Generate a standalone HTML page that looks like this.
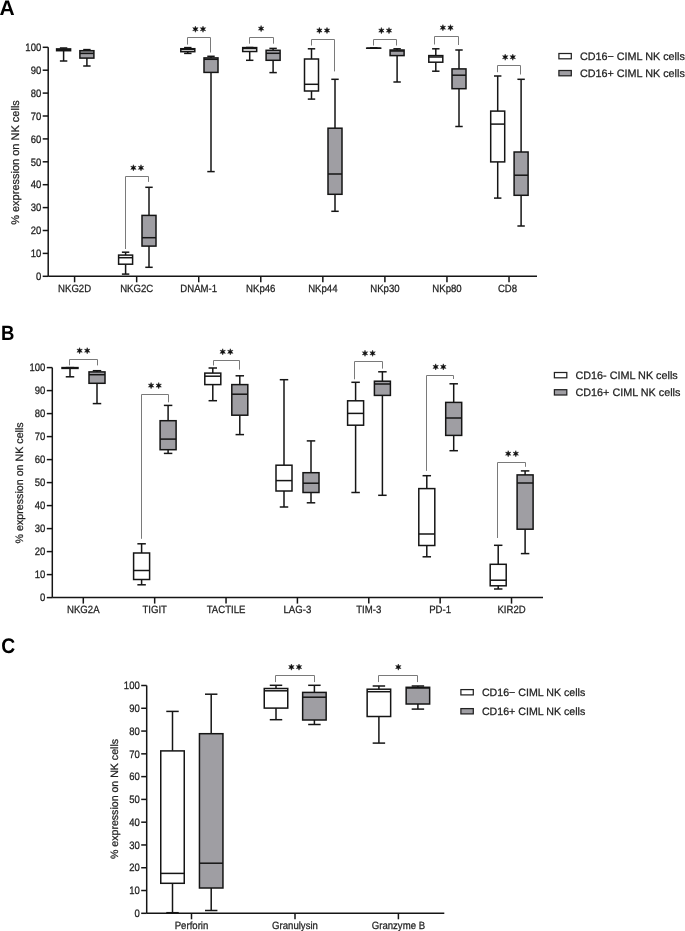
<!DOCTYPE html>
<html><head><meta charset="utf-8"><style>
html,body{margin:0;padding:0;background:#fff;}
body{width:685px;height:931px;overflow:hidden;}
svg{display:block;will-change:transform;}
</style></head><body>
<svg width="685" height="931" viewBox="0 0 685 931" style="text-rendering:geometricPrecision">
<text transform="translate(-0.6,14.7) scale(1.0,1)" font-family='"Liberation Sans", sans-serif' font-weight="bold" font-size="21" fill="#000">A</text>
<text transform="translate(18.6,162.5) rotate(-90)" font-family='"Liberation Sans", sans-serif' font-size="11" fill="#222" stroke="#222" stroke-width="0.25" text-anchor="middle">% expression on NK cells</text>
<g stroke="#151515" stroke-width="1.5" fill="none">
<line x1="48.2" y1="47.3" x2="48.2" y2="276.3" />
<line x1="48.2" y1="276.3" x2="537" y2="276.3" />
<line x1="42.7" y1="276.30" x2="48.2" y2="276.30" />
<line x1="42.7" y1="253.40" x2="48.2" y2="253.40" />
<line x1="42.7" y1="230.50" x2="48.2" y2="230.50" />
<line x1="42.7" y1="207.60" x2="48.2" y2="207.60" />
<line x1="42.7" y1="184.70" x2="48.2" y2="184.70" />
<line x1="42.7" y1="161.80" x2="48.2" y2="161.80" />
<line x1="42.7" y1="138.90" x2="48.2" y2="138.90" />
<line x1="42.7" y1="116.00" x2="48.2" y2="116.00" />
<line x1="42.7" y1="93.10" x2="48.2" y2="93.10" />
<line x1="42.7" y1="70.20" x2="48.2" y2="70.20" />
<line x1="42.7" y1="47.30" x2="48.2" y2="47.30" />
<line x1="74.60" y1="276.3" x2="74.60" y2="282.3" />
<line x1="136.66" y1="276.3" x2="136.66" y2="282.3" />
<line x1="198.72" y1="276.3" x2="198.72" y2="282.3" />
<line x1="260.78" y1="276.3" x2="260.78" y2="282.3" />
<line x1="322.84" y1="276.3" x2="322.84" y2="282.3" />
<line x1="384.90" y1="276.3" x2="384.90" y2="282.3" />
<line x1="446.96" y1="276.3" x2="446.96" y2="282.3" />
<line x1="509.02" y1="276.3" x2="509.02" y2="282.3" />
</g>
<g font-family='"Liberation Sans", sans-serif' font-size="10" fill="#222" stroke="#222" stroke-width="0.25" text-anchor="end">
<text transform="translate(41.2,280.00) scale(0.95,1.08)">0</text>
<text transform="translate(41.2,257.10) scale(0.95,1.08)">10</text>
<text transform="translate(41.2,234.20) scale(0.95,1.08)">20</text>
<text transform="translate(41.2,211.30) scale(0.95,1.08)">30</text>
<text transform="translate(41.2,188.40) scale(0.95,1.08)">40</text>
<text transform="translate(41.2,165.50) scale(0.95,1.08)">50</text>
<text transform="translate(41.2,142.60) scale(0.95,1.08)">60</text>
<text transform="translate(41.2,119.70) scale(0.95,1.08)">70</text>
<text transform="translate(41.2,96.80) scale(0.95,1.08)">80</text>
<text transform="translate(41.2,73.90) scale(0.95,1.08)">90</text>
<text transform="translate(41.2,51.00) scale(0.95,1.08)">100</text>
</g>
<g font-family='"Liberation Sans", sans-serif' font-size="10" fill="#222" stroke="#222" stroke-width="0.25" text-anchor="middle">
<text transform="translate(74.60,291.7) scale(0.96,1.05)">NKG2D</text>
<text transform="translate(136.66,291.7) scale(0.96,1.05)">NKG2C</text>
<text transform="translate(198.72,291.7) scale(0.96,1.05)">DNAM-1</text>
<text transform="translate(260.78,291.7) scale(0.96,1.05)">NKp46</text>
<text transform="translate(322.84,291.7) scale(0.96,1.05)">NKp44</text>
<text transform="translate(384.90,291.7) scale(0.96,1.05)">NKp30</text>
<text transform="translate(446.96,291.7) scale(0.96,1.05)">NKp80</text>
<text transform="translate(507.52,291.7) scale(0.96,1.05)">CD8</text>
</g>
<g stroke="#151515" stroke-width="1.5">
<line x1="63.6" y1="48.0" x2="63.6" y2="48.9" />
<line x1="63.6" y1="50.7" x2="63.6" y2="61.0" />
<line x1="59.89" y1="48.0" x2="67.31" y2="48.0" />
<line x1="59.89" y1="61.0" x2="67.31" y2="61.0" />
<rect x="56.6" y="48.9" width="14" height="1.8000000000000043" fill="#fff" />
<line x1="56.6" y1="49.8" x2="70.6" y2="49.8" />
<line x1="86.9" y1="49.6" x2="86.9" y2="50.7" />
<line x1="86.9" y1="58.1" x2="86.9" y2="66.0" />
<line x1="83.19000000000001" y1="49.6" x2="90.61" y2="49.6" />
<line x1="83.19000000000001" y1="66.0" x2="90.61" y2="66.0" />
<rect x="79.9" y="50.7" width="14" height="7.399999999999999" fill="#9f9ea3" />
<line x1="79.9" y1="53.4" x2="93.9" y2="53.4" />
<line x1="125.6" y1="252.2" x2="125.6" y2="255.1" />
<line x1="125.6" y1="264.2" x2="125.6" y2="274.1" />
<line x1="121.89" y1="252.2" x2="129.31" y2="252.2" />
<line x1="121.89" y1="274.1" x2="129.31" y2="274.1" />
<rect x="118.6" y="255.1" width="14" height="9.099999999999994" fill="#fff" />
<line x1="118.6" y1="257.7" x2="132.6" y2="257.7" />
<line x1="149.0" y1="187.3" x2="149.0" y2="215.4" />
<line x1="149.0" y1="246.1" x2="149.0" y2="267.3" />
<line x1="145.29" y1="187.3" x2="152.71" y2="187.3" />
<line x1="145.29" y1="267.3" x2="152.71" y2="267.3" />
<rect x="142.0" y="215.4" width="14" height="30.69999999999999" fill="#9f9ea3" />
<line x1="142.0" y1="237.7" x2="156.0" y2="237.7" />
<line x1="187.8" y1="47.6" x2="187.8" y2="48.7" />
<line x1="187.8" y1="51.7" x2="187.8" y2="53.4" />
<line x1="184.09" y1="47.6" x2="191.51000000000002" y2="47.6" />
<line x1="184.09" y1="53.4" x2="191.51000000000002" y2="53.4" />
<rect x="180.8" y="48.7" width="14" height="3.0" fill="#fff" />
<line x1="180.8" y1="49.5" x2="194.8" y2="49.5" />
<line x1="211.0" y1="56.3" x2="211.0" y2="57.9" />
<line x1="211.0" y1="72.4" x2="211.0" y2="171.6" />
<line x1="207.29" y1="56.3" x2="214.71" y2="56.3" />
<line x1="207.29" y1="171.6" x2="214.71" y2="171.6" />
<rect x="204.0" y="57.9" width="14" height="14.500000000000007" fill="#9f9ea3" />
<line x1="204.0" y1="59.3" x2="218.0" y2="59.3" />
<line x1="249.7" y1="47.5" x2="249.7" y2="47.6" />
<line x1="249.7" y1="51.5" x2="249.7" y2="60.3" />
<line x1="245.98999999999998" y1="47.5" x2="253.41" y2="47.5" />
<line x1="245.98999999999998" y1="60.3" x2="253.41" y2="60.3" />
<rect x="242.7" y="47.6" width="14" height="3.8999999999999986" fill="#fff" />
<line x1="242.7" y1="48.5" x2="256.7" y2="48.5" />
<line x1="273.1" y1="48.4" x2="273.1" y2="50.3" />
<line x1="273.1" y1="60.3" x2="273.1" y2="72.6" />
<line x1="269.39000000000004" y1="48.4" x2="276.81" y2="48.4" />
<line x1="269.39000000000004" y1="72.6" x2="276.81" y2="72.6" />
<rect x="266.1" y="50.3" width="14" height="10.0" fill="#9f9ea3" />
<line x1="266.1" y1="53.3" x2="280.1" y2="53.3" />
<line x1="311.5" y1="48.8" x2="311.5" y2="59.0" />
<line x1="311.5" y1="91.0" x2="311.5" y2="99.1" />
<line x1="307.79" y1="48.8" x2="315.21" y2="48.8" />
<line x1="307.79" y1="99.1" x2="315.21" y2="99.1" />
<rect x="304.5" y="59.0" width="14" height="32.0" fill="#fff" />
<line x1="304.5" y1="84.3" x2="318.5" y2="84.3" />
<line x1="335.0" y1="79.3" x2="335.0" y2="128.2" />
<line x1="335.0" y1="194.3" x2="335.0" y2="211.3" />
<line x1="331.29" y1="79.3" x2="338.71" y2="79.3" />
<line x1="331.29" y1="211.3" x2="338.71" y2="211.3" />
<rect x="328.0" y="128.2" width="14" height="66.10000000000002" fill="#9f9ea3" />
<line x1="328.0" y1="174.0" x2="342.0" y2="174.0" />
<line x1="373.7" y1="48.2" x2="373.7" y2="48.2" />
<line x1="373.7" y1="48.2" x2="373.7" y2="48.2" />
<line x1="369.99" y1="48.2" x2="377.40999999999997" y2="48.2" />
<line x1="369.99" y1="48.2" x2="377.40999999999997" y2="48.2" />
<rect x="366.7" y="48.2" width="14" height="0.01" fill="#fff" />
<line x1="366.7" y1="48.2" x2="380.7" y2="48.2" />
<line x1="397.1" y1="48.8" x2="397.1" y2="50.0" />
<line x1="397.1" y1="55.6" x2="397.1" y2="82.0" />
<line x1="393.39000000000004" y1="48.8" x2="400.81" y2="48.8" />
<line x1="393.39000000000004" y1="82.0" x2="400.81" y2="82.0" />
<rect x="390.1" y="50.0" width="14" height="5.600000000000001" fill="#9f9ea3" />
<line x1="390.1" y1="51.0" x2="404.1" y2="51.0" />
<line x1="435.8" y1="48.8" x2="435.8" y2="55.6" />
<line x1="435.8" y1="62.2" x2="435.8" y2="71.2" />
<line x1="432.09000000000003" y1="48.8" x2="439.51" y2="48.8" />
<line x1="432.09000000000003" y1="71.2" x2="439.51" y2="71.2" />
<rect x="428.8" y="55.6" width="14" height="6.600000000000001" fill="#fff" />
<line x1="428.8" y1="57.0" x2="442.8" y2="57.0" />
<line x1="459.0" y1="50.0" x2="459.0" y2="68.9" />
<line x1="459.0" y1="88.7" x2="459.0" y2="126.5" />
<line x1="455.29" y1="50.0" x2="462.71" y2="50.0" />
<line x1="455.29" y1="126.5" x2="462.71" y2="126.5" />
<rect x="452.0" y="68.9" width="14" height="19.799999999999997" fill="#9f9ea3" />
<line x1="452.0" y1="75.2" x2="466.0" y2="75.2" />
<line x1="497.7" y1="76.0" x2="497.7" y2="111.1" />
<line x1="497.7" y1="161.9" x2="497.7" y2="198.1" />
<line x1="493.99" y1="76.0" x2="501.40999999999997" y2="76.0" />
<line x1="493.99" y1="198.1" x2="501.40999999999997" y2="198.1" />
<rect x="490.7" y="111.1" width="14" height="50.80000000000001" fill="#fff" />
<line x1="490.7" y1="124.1" x2="504.7" y2="124.1" />
<line x1="521.1" y1="79.3" x2="521.1" y2="152.0" />
<line x1="521.1" y1="195.3" x2="521.1" y2="226.0" />
<line x1="517.39" y1="79.3" x2="524.8100000000001" y2="79.3" />
<line x1="517.39" y1="226.0" x2="524.8100000000001" y2="226.0" />
<rect x="514.1" y="152.0" width="14" height="43.30000000000001" fill="#9f9ea3" />
<line x1="514.1" y1="175.2" x2="528.1" y2="175.2" />
</g>
<path d="M125.5,249V176.5H148.5V181.9" stroke="#7a7a7a" stroke-width="1" fill="none"/>
<polygon points="133.40,164.75 134.05,166.67 136.04,166.28 134.70,167.80 136.04,169.33 134.05,168.93 133.40,170.85 132.75,168.93 130.76,169.33 132.10,167.80 130.76,166.28 132.75,166.67" fill="#111" stroke="#111" stroke-width="0.5" stroke-linejoin="round"/>
<polygon points="141.00,164.75 141.65,166.67 143.64,166.28 142.30,167.80 143.64,169.33 141.65,168.93 141.00,170.85 140.35,168.93 138.36,169.33 139.70,167.80 138.36,166.28 140.35,166.67" fill="#111" stroke="#111" stroke-width="0.5" stroke-linejoin="round"/>
<path d="M187.5,44.6V37.5H210.5V52.5" stroke="#7a7a7a" stroke-width="1" fill="none"/>
<polygon points="195.40,26.15 196.05,28.07 198.04,27.67 196.70,29.20 198.04,30.72 196.05,30.33 195.40,32.25 194.75,30.33 192.76,30.72 194.10,29.20 192.76,27.67 194.75,28.07" fill="#111" stroke="#111" stroke-width="0.5" stroke-linejoin="round"/>
<polygon points="203.00,26.15 203.65,28.07 205.64,27.67 204.30,29.20 205.64,30.72 203.65,30.33 203.00,32.25 202.35,30.33 200.36,30.72 201.70,29.20 200.36,27.67 202.35,28.07" fill="#111" stroke="#111" stroke-width="0.5" stroke-linejoin="round"/>
<path d="M249.5,43.7V37.5H273.5V43.7" stroke="#7a7a7a" stroke-width="1" fill="none"/>
<polygon points="261.10,25.55 261.75,27.47 263.74,27.08 262.40,28.60 263.74,30.12 261.75,29.73 261.10,31.65 260.45,29.73 258.46,30.12 259.80,28.60 258.46,27.08 260.45,27.47" fill="#111" stroke="#111" stroke-width="0.5" stroke-linejoin="round"/>
<path d="M311.5,45.5V39.5H334.5V71.4" stroke="#7a7a7a" stroke-width="1" fill="none"/>
<polygon points="319.40,27.45 320.05,29.37 322.04,28.98 320.70,30.50 322.04,32.02 320.05,31.63 319.40,33.55 318.75,31.63 316.76,32.02 318.10,30.50 316.76,28.98 318.75,29.37" fill="#111" stroke="#111" stroke-width="0.5" stroke-linejoin="round"/>
<polygon points="327.00,27.45 327.65,29.37 329.64,28.98 328.30,30.50 329.64,32.02 327.65,31.63 327.00,33.55 326.35,31.63 324.36,32.02 325.70,30.50 324.36,28.98 326.35,29.37" fill="#111" stroke="#111" stroke-width="0.5" stroke-linejoin="round"/>
<path d="M373.5,45.5V39.5H396.5V45.5" stroke="#7a7a7a" stroke-width="1" fill="none"/>
<polygon points="381.40,27.55 382.05,29.47 384.04,29.08 382.70,30.60 384.04,32.12 382.05,31.73 381.40,33.65 380.75,31.73 378.76,32.12 380.10,30.60 378.76,29.08 380.75,29.47" fill="#111" stroke="#111" stroke-width="0.5" stroke-linejoin="round"/>
<polygon points="389.00,27.55 389.65,29.47 391.64,29.08 390.30,30.60 391.64,32.12 389.65,31.73 389.00,33.65 388.35,31.73 386.36,32.12 387.70,30.60 386.36,29.08 388.35,29.47" fill="#111" stroke="#111" stroke-width="0.5" stroke-linejoin="round"/>
<path d="M434.5,44.5V36.5H458.5V45.0" stroke="#7a7a7a" stroke-width="1" fill="none"/>
<polygon points="442.90,24.65 443.55,26.57 445.54,26.17 444.20,27.70 445.54,29.22 443.55,28.83 442.90,30.75 442.25,28.83 440.26,29.22 441.60,27.70 440.26,26.17 442.25,26.57" fill="#111" stroke="#111" stroke-width="0.5" stroke-linejoin="round"/>
<polygon points="450.50,24.65 451.15,26.57 453.14,26.17 451.80,27.70 453.14,29.22 451.15,28.83 450.50,30.75 449.85,28.83 447.86,29.22 449.20,27.70 447.86,26.17 449.85,26.57" fill="#111" stroke="#111" stroke-width="0.5" stroke-linejoin="round"/>
<path d="M497.5,72.2V65.5H520.5V74.5" stroke="#7a7a7a" stroke-width="1" fill="none"/>
<polygon points="505.20,54.15 505.85,56.07 507.84,55.67 506.50,57.20 507.84,58.72 505.85,58.33 505.20,60.25 504.55,58.33 502.56,58.72 503.90,57.20 502.56,55.67 504.55,56.07" fill="#111" stroke="#111" stroke-width="0.5" stroke-linejoin="round"/>
<polygon points="512.80,54.15 513.45,56.07 515.44,55.67 514.10,57.20 515.44,58.72 513.45,58.33 512.80,60.25 512.15,58.33 510.16,58.72 511.50,57.20 510.16,55.67 512.15,56.07" fill="#111" stroke="#111" stroke-width="0.5" stroke-linejoin="round"/>
<rect x="558.9" y="53.5" width="12.4" height="5.3" fill="#fff" stroke="#222" stroke-width="1.25"/>
<rect x="558.9" y="70.5" width="12.4" height="5.3" fill="#9f9ea3" stroke="#222" stroke-width="1.25"/>
<text x="579.9" y="59.5" font-family='"Liberation Sans", sans-serif' font-size="10.8" fill="#222" stroke="#222" stroke-width="0.25">CD16− CIML NK cells</text>
<text x="579.9" y="76.8" font-family='"Liberation Sans", sans-serif' font-size="10.8" fill="#222" stroke="#222" stroke-width="0.25">CD16+ CIML NK cells</text>
<text transform="translate(1.0,340.1) scale(0.9,1)" font-family='"Liberation Sans", sans-serif' font-weight="bold" font-size="20.6" fill="#000">B</text>
<text transform="translate(23.4,482.9) rotate(-90)" font-family='"Liberation Sans", sans-serif' font-size="10.7" fill="#222" stroke="#222" stroke-width="0.25" text-anchor="middle">% expression on NK cells</text>
<g stroke="#151515" stroke-width="1.5" fill="none">
<line x1="52.3" y1="367.6" x2="52.3" y2="597.6" />
<line x1="52.3" y1="597.6" x2="543" y2="597.6" />
<line x1="46.8" y1="597.60" x2="52.3" y2="597.60" />
<line x1="46.8" y1="574.60" x2="52.3" y2="574.60" />
<line x1="46.8" y1="551.60" x2="52.3" y2="551.60" />
<line x1="46.8" y1="528.60" x2="52.3" y2="528.60" />
<line x1="46.8" y1="505.60" x2="52.3" y2="505.60" />
<line x1="46.8" y1="482.60" x2="52.3" y2="482.60" />
<line x1="46.8" y1="459.60" x2="52.3" y2="459.60" />
<line x1="46.8" y1="436.60" x2="52.3" y2="436.60" />
<line x1="46.8" y1="413.60" x2="52.3" y2="413.60" />
<line x1="46.8" y1="390.60" x2="52.3" y2="390.60" />
<line x1="46.8" y1="367.60" x2="52.3" y2="367.60" />
<line x1="83.30" y1="597.6" x2="83.30" y2="603.6" />
<line x1="154.67" y1="597.6" x2="154.67" y2="603.6" />
<line x1="226.04" y1="597.6" x2="226.04" y2="603.6" />
<line x1="297.41" y1="597.6" x2="297.41" y2="603.6" />
<line x1="368.78" y1="597.6" x2="368.78" y2="603.6" />
<line x1="440.15" y1="597.6" x2="440.15" y2="603.6" />
<line x1="511.52" y1="597.6" x2="511.52" y2="603.6" />
</g>
<g font-family='"Liberation Sans", sans-serif' font-size="10" fill="#222" stroke="#222" stroke-width="0.25" text-anchor="end">
<text transform="translate(45.3,601.30) scale(0.95,1.08)">0</text>
<text transform="translate(45.3,578.30) scale(0.95,1.08)">10</text>
<text transform="translate(45.3,555.30) scale(0.95,1.08)">20</text>
<text transform="translate(45.3,532.30) scale(0.95,1.08)">30</text>
<text transform="translate(45.3,509.30) scale(0.95,1.08)">40</text>
<text transform="translate(45.3,486.30) scale(0.95,1.08)">50</text>
<text transform="translate(45.3,463.30) scale(0.95,1.08)">60</text>
<text transform="translate(45.3,440.30) scale(0.95,1.08)">70</text>
<text transform="translate(45.3,417.30) scale(0.95,1.08)">80</text>
<text transform="translate(45.3,394.30) scale(0.95,1.08)">90</text>
<text transform="translate(45.3,371.30) scale(0.95,1.08)">100</text>
</g>
<g font-family='"Liberation Sans", sans-serif' font-size="10" fill="#222" stroke="#222" stroke-width="0.25" text-anchor="middle">
<text transform="translate(83.30,612.8) scale(0.96,1.05)">NKG2A</text>
<text transform="translate(154.67,612.8) scale(0.96,1.05)">TIGIT</text>
<text transform="translate(226.04,612.8) scale(0.96,1.05)">TACTILE</text>
<text transform="translate(297.41,612.8) scale(0.96,1.05)">LAG-3</text>
<text transform="translate(368.78,612.8) scale(0.96,1.05)">TIM-3</text>
<text transform="translate(440.15,612.8) scale(0.96,1.05)">PD-1</text>
<text transform="translate(511.52,612.8) scale(0.96,1.05)">KIR2D</text>
</g>
<g stroke="#151515" stroke-width="1.5">
<line x1="70.0" y1="367.6" x2="70.0" y2="367.6" />
<line x1="70.0" y1="368.4" x2="70.0" y2="376.8" />
<line x1="65.76" y1="367.6" x2="74.24" y2="367.6" />
<line x1="65.76" y1="376.8" x2="74.24" y2="376.8" />
<rect x="62.0" y="367.6" width="16" height="0.7999999999999545" fill="#fff" />
<line x1="62.0" y1="368.0" x2="78.0" y2="368.0" />
<line x1="97.0" y1="370.7" x2="97.0" y2="371.9" />
<line x1="97.0" y1="383.3" x2="97.0" y2="403.6" />
<line x1="92.76" y1="370.7" x2="101.24" y2="370.7" />
<line x1="92.76" y1="403.6" x2="101.24" y2="403.6" />
<rect x="89.0" y="371.9" width="16" height="11.400000000000034" fill="#9f9ea3" />
<line x1="89.0" y1="374.7" x2="105.0" y2="374.7" />
<line x1="141.6" y1="543.8" x2="141.6" y2="553.0" />
<line x1="141.6" y1="579.5" x2="141.6" y2="584.8" />
<line x1="137.35999999999999" y1="543.8" x2="145.84" y2="543.8" />
<line x1="137.35999999999999" y1="584.8" x2="145.84" y2="584.8" />
<rect x="133.6" y="553.0" width="16" height="26.5" fill="#fff" />
<line x1="133.6" y1="570.5" x2="149.6" y2="570.5" />
<line x1="168.1" y1="405.4" x2="168.1" y2="420.7" />
<line x1="168.1" y1="449.7" x2="168.1" y2="453.4" />
<line x1="163.85999999999999" y1="405.4" x2="172.34" y2="405.4" />
<line x1="163.85999999999999" y1="453.4" x2="172.34" y2="453.4" />
<rect x="160.1" y="420.7" width="16" height="29.0" fill="#9f9ea3" />
<line x1="160.1" y1="439.1" x2="176.1" y2="439.1" />
<line x1="212.8" y1="368.0" x2="212.8" y2="373.1" />
<line x1="212.8" y1="384.6" x2="212.8" y2="400.7" />
<line x1="208.56" y1="368.0" x2="217.04000000000002" y2="368.0" />
<line x1="208.56" y1="400.7" x2="217.04000000000002" y2="400.7" />
<rect x="204.8" y="373.1" width="16" height="11.5" fill="#fff" />
<line x1="204.8" y1="376.2" x2="220.8" y2="376.2" />
<line x1="239.8" y1="375.8" x2="239.8" y2="384.6" />
<line x1="239.8" y1="415.2" x2="239.8" y2="434.6" />
<line x1="235.56" y1="375.8" x2="244.04000000000002" y2="375.8" />
<line x1="235.56" y1="434.6" x2="244.04000000000002" y2="434.6" />
<rect x="231.8" y="384.6" width="16" height="30.599999999999966" fill="#9f9ea3" />
<line x1="231.8" y1="394.2" x2="247.8" y2="394.2" />
<line x1="284.0" y1="379.7" x2="284.0" y2="465.2" />
<line x1="284.0" y1="491.0" x2="284.0" y2="507.0" />
<line x1="279.76" y1="379.7" x2="288.24" y2="379.7" />
<line x1="279.76" y1="507.0" x2="288.24" y2="507.0" />
<rect x="276.0" y="465.2" width="16" height="25.80000000000001" fill="#fff" />
<line x1="276.0" y1="480.6" x2="292.0" y2="480.6" />
<line x1="311.0" y1="440.9" x2="311.0" y2="472.7" />
<line x1="311.0" y1="492.5" x2="311.0" y2="502.8" />
<line x1="306.76" y1="440.9" x2="315.24" y2="440.9" />
<line x1="306.76" y1="502.8" x2="315.24" y2="502.8" />
<rect x="303.0" y="472.7" width="16" height="19.80000000000001" fill="#9f9ea3" />
<line x1="303.0" y1="483.2" x2="319.0" y2="483.2" />
<line x1="355.6" y1="382.3" x2="355.6" y2="400.8" />
<line x1="355.6" y1="425.2" x2="355.6" y2="492.5" />
<line x1="351.36" y1="382.3" x2="359.84000000000003" y2="382.3" />
<line x1="351.36" y1="492.5" x2="359.84000000000003" y2="492.5" />
<rect x="347.6" y="400.8" width="16" height="24.399999999999977" fill="#fff" />
<line x1="347.6" y1="413.4" x2="363.6" y2="413.4" />
<line x1="382.4" y1="371.8" x2="382.4" y2="381.2" />
<line x1="382.4" y1="395.4" x2="382.4" y2="495.3" />
<line x1="378.15999999999997" y1="371.8" x2="386.64" y2="371.8" />
<line x1="378.15999999999997" y1="495.3" x2="386.64" y2="495.3" />
<rect x="374.4" y="381.2" width="16" height="14.199999999999989" fill="#9f9ea3" />
<line x1="374.4" y1="384.0" x2="390.4" y2="384.0" />
<line x1="426.8" y1="475.7" x2="426.8" y2="488.6" />
<line x1="426.8" y1="545.5" x2="426.8" y2="556.8" />
<line x1="422.56" y1="475.7" x2="431.04" y2="475.7" />
<line x1="422.56" y1="556.8" x2="431.04" y2="556.8" />
<rect x="418.8" y="488.6" width="16" height="56.89999999999998" fill="#fff" />
<line x1="418.8" y1="534.0" x2="434.8" y2="534.0" />
<line x1="453.7" y1="383.8" x2="453.7" y2="402.4" />
<line x1="453.7" y1="435.4" x2="453.7" y2="450.7" />
<line x1="449.46" y1="383.8" x2="457.94" y2="383.8" />
<line x1="449.46" y1="450.7" x2="457.94" y2="450.7" />
<rect x="445.7" y="402.4" width="16" height="33.0" fill="#9f9ea3" />
<line x1="445.7" y1="418.0" x2="461.7" y2="418.0" />
<line x1="498.2" y1="545.3" x2="498.2" y2="564.3" />
<line x1="498.2" y1="585.8" x2="498.2" y2="589.0" />
<line x1="493.96" y1="545.3" x2="502.44" y2="545.3" />
<line x1="493.96" y1="589.0" x2="502.44" y2="589.0" />
<rect x="490.2" y="564.3" width="16" height="21.5" fill="#fff" />
<line x1="490.2" y1="580.2" x2="506.2" y2="580.2" />
<line x1="525.1" y1="470.9" x2="525.1" y2="474.9" />
<line x1="525.1" y1="529.2" x2="525.1" y2="553.6" />
<line x1="520.86" y1="470.9" x2="529.34" y2="470.9" />
<line x1="520.86" y1="553.6" x2="529.34" y2="553.6" />
<rect x="517.1" y="474.9" width="16" height="54.30000000000007" fill="#9f9ea3" />
<line x1="517.1" y1="483.0" x2="533.1" y2="483.0" />
</g>
<path d="M69.5,365.4V359.5H97.5V365.4" stroke="#7a7a7a" stroke-width="1" fill="none"/>
<polygon points="79.60,347.65 80.25,349.57 82.24,349.18 80.90,350.70 82.24,352.22 80.25,351.83 79.60,353.75 78.95,351.83 76.96,352.22 78.30,350.70 76.96,349.18 78.95,349.57" fill="#111" stroke="#111" stroke-width="0.5" stroke-linejoin="round"/>
<polygon points="87.20,347.65 87.85,349.57 89.84,349.18 88.50,350.70 89.84,352.22 87.85,351.83 87.20,353.75 86.55,351.83 84.56,352.22 85.90,350.70 84.56,349.18 86.55,349.57" fill="#111" stroke="#111" stroke-width="0.5" stroke-linejoin="round"/>
<path d="M141.5,538.8V394.5H168.5V402.3" stroke="#7a7a7a" stroke-width="1" fill="none"/>
<polygon points="151.10,382.55 151.75,384.47 153.74,384.07 152.40,385.60 153.74,387.12 151.75,386.73 151.10,388.65 150.45,386.73 148.46,387.12 149.80,385.60 148.46,384.07 150.45,384.47" fill="#111" stroke="#111" stroke-width="0.5" stroke-linejoin="round"/>
<polygon points="158.70,382.55 159.35,384.47 161.34,384.07 160.00,385.60 161.34,387.12 159.35,386.73 158.70,388.65 158.05,386.73 156.06,387.12 157.40,385.60 156.06,384.07 158.05,384.47" fill="#111" stroke="#111" stroke-width="0.5" stroke-linejoin="round"/>
<path d="M213.5,365.5V360.5H239.5V369.6" stroke="#7a7a7a" stroke-width="1" fill="none"/>
<polygon points="222.70,348.75 223.35,350.67 225.34,350.27 224.00,351.80 225.34,353.32 223.35,352.93 222.70,354.85 222.05,352.93 220.06,353.32 221.40,351.80 220.06,350.27 222.05,350.67" fill="#111" stroke="#111" stroke-width="0.5" stroke-linejoin="round"/>
<polygon points="230.30,348.75 230.95,350.67 232.94,350.27 231.60,351.80 232.94,353.32 230.95,352.93 230.30,354.85 229.65,352.93 227.66,353.32 229.00,351.80 227.66,350.27 229.65,350.67" fill="#111" stroke="#111" stroke-width="0.5" stroke-linejoin="round"/>
<path d="M354.5,379.3V361.5H382.5V368.6" stroke="#7a7a7a" stroke-width="1" fill="none"/>
<polygon points="365.00,350.25 365.65,352.17 367.64,351.77 366.30,353.30 367.64,354.82 365.65,354.43 365.00,356.35 364.35,354.43 362.36,354.82 363.70,353.30 362.36,351.77 364.35,352.17" fill="#111" stroke="#111" stroke-width="0.5" stroke-linejoin="round"/>
<polygon points="372.60,350.25 373.25,352.17 375.24,351.77 373.90,353.30 375.24,354.82 373.25,354.43 372.60,356.35 371.95,354.43 369.96,354.82 371.30,353.30 369.96,351.77 371.95,352.17" fill="#111" stroke="#111" stroke-width="0.5" stroke-linejoin="round"/>
<path d="M426.5,470.9V375.5H453.5V379.0" stroke="#7a7a7a" stroke-width="1" fill="none"/>
<polygon points="435.70,363.85 436.35,365.77 438.34,365.38 437.00,366.90 438.34,368.42 436.35,368.03 435.70,369.95 435.05,368.03 433.06,368.42 434.40,366.90 433.06,365.38 435.05,365.77" fill="#111" stroke="#111" stroke-width="0.5" stroke-linejoin="round"/>
<polygon points="443.30,363.85 443.95,365.77 445.94,365.38 444.60,366.90 445.94,368.42 443.95,368.03 443.30,369.95 442.65,368.03 440.66,368.42 442.00,366.90 440.66,365.38 442.65,365.77" fill="#111" stroke="#111" stroke-width="0.5" stroke-linejoin="round"/>
<path d="M497.5,538.0V462.5H525.5V466.8" stroke="#7a7a7a" stroke-width="1" fill="none"/>
<polygon points="508.20,450.65 508.85,452.57 510.84,452.18 509.50,453.70 510.84,455.22 508.85,454.83 508.20,456.75 507.55,454.83 505.56,455.22 506.90,453.70 505.56,452.18 507.55,452.57" fill="#111" stroke="#111" stroke-width="0.5" stroke-linejoin="round"/>
<polygon points="515.80,450.65 516.45,452.57 518.44,452.18 517.10,453.70 518.44,455.22 516.45,454.83 515.80,456.75 515.15,454.83 513.16,455.22 514.50,453.70 513.16,452.18 515.15,452.57" fill="#111" stroke="#111" stroke-width="0.5" stroke-linejoin="round"/>
<rect x="554.4" y="372.5" width="12.4" height="5.3" fill="#fff" stroke="#222" stroke-width="1.25"/>
<rect x="554.4" y="389.7" width="12.4" height="5.3" fill="#9f9ea3" stroke="#222" stroke-width="1.25"/>
<text x="575.5" y="379.2" font-family='"Liberation Sans", sans-serif' font-size="10.8" fill="#222" stroke="#222" stroke-width="0.25">CD16- CIML NK cells</text>
<text x="575.5" y="396.4" font-family='"Liberation Sans", sans-serif' font-size="10.8" fill="#222" stroke="#222" stroke-width="0.25">CD16+ CIML NK cells</text>
<text transform="translate(1.2,653.2) scale(0.92,1)" font-family='"Liberation Sans", sans-serif' font-weight="bold" font-size="21" fill="#000">C</text>
<text transform="translate(117.6,799.0) rotate(-90)" font-family='"Liberation Sans", sans-serif' font-size="10.6" fill="#222" stroke="#222" stroke-width="0.25" text-anchor="middle">% expression on NK cells</text>
<g stroke="#151515" stroke-width="1.5" fill="none">
<line x1="146.7" y1="685.5" x2="146.7" y2="913.3" />
<line x1="146.7" y1="913.3" x2="444.3" y2="913.3" />
<line x1="141.2" y1="913.30" x2="146.7" y2="913.30" />
<line x1="141.2" y1="890.52" x2="146.7" y2="890.52" />
<line x1="141.2" y1="867.74" x2="146.7" y2="867.74" />
<line x1="141.2" y1="844.96" x2="146.7" y2="844.96" />
<line x1="141.2" y1="822.18" x2="146.7" y2="822.18" />
<line x1="141.2" y1="799.40" x2="146.7" y2="799.40" />
<line x1="141.2" y1="776.62" x2="146.7" y2="776.62" />
<line x1="141.2" y1="753.84" x2="146.7" y2="753.84" />
<line x1="141.2" y1="731.06" x2="146.7" y2="731.06" />
<line x1="141.2" y1="708.28" x2="146.7" y2="708.28" />
<line x1="141.2" y1="685.50" x2="146.7" y2="685.50" />
<line x1="191.50" y1="913.3" x2="191.50" y2="919.3" />
<line x1="295.00" y1="913.3" x2="295.00" y2="919.3" />
<line x1="398.40" y1="913.3" x2="398.40" y2="919.3" />
</g>
<g font-family='"Liberation Sans", sans-serif' font-size="10" fill="#222" stroke="#222" stroke-width="0.25" text-anchor="end">
<text transform="translate(139.7,917.00) scale(0.95,1.08)">0</text>
<text transform="translate(139.7,894.22) scale(0.95,1.08)">10</text>
<text transform="translate(139.7,871.44) scale(0.95,1.08)">20</text>
<text transform="translate(139.7,848.66) scale(0.95,1.08)">30</text>
<text transform="translate(139.7,825.88) scale(0.95,1.08)">40</text>
<text transform="translate(139.7,803.10) scale(0.95,1.08)">50</text>
<text transform="translate(139.7,780.32) scale(0.95,1.08)">60</text>
<text transform="translate(139.7,757.54) scale(0.95,1.08)">70</text>
<text transform="translate(139.7,734.76) scale(0.95,1.08)">80</text>
<text transform="translate(139.7,711.98) scale(0.95,1.08)">90</text>
<text transform="translate(139.7,689.20) scale(0.95,1.08)">100</text>
</g>
<g font-family='"Liberation Sans", sans-serif' font-size="10" fill="#222" stroke="#222" stroke-width="0.25" text-anchor="middle">
<text transform="translate(191.50,928.5) scale(0.96,1.05)">Perforin</text>
<text transform="translate(295.00,928.5) scale(0.96,1.05)">Granulysin</text>
<text transform="translate(398.40,928.5) scale(0.96,1.05)">Granzyme B</text>
</g>
<g stroke="#151515" stroke-width="1.5">
<line x1="172.5" y1="711.4" x2="172.5" y2="750.9" />
<line x1="172.5" y1="883.3" x2="172.5" y2="912.7" />
<line x1="166.2725" y1="711.4" x2="178.7275" y2="711.4" />
<line x1="166.2725" y1="912.7" x2="178.7275" y2="912.7" />
<rect x="160.75" y="750.9" width="23.5" height="132.39999999999998" fill="#fff" />
<line x1="160.75" y1="873.4" x2="184.25" y2="873.4" />
<line x1="211.2" y1="694.2" x2="211.2" y2="733.7" />
<line x1="211.2" y1="888.0" x2="211.2" y2="910.5" />
<line x1="204.9725" y1="694.2" x2="217.42749999999998" y2="694.2" />
<line x1="204.9725" y1="910.5" x2="217.42749999999998" y2="910.5" />
<rect x="199.45" y="733.7" width="23.5" height="154.29999999999995" fill="#9f9ea3" />
<line x1="199.45" y1="863.2" x2="222.95" y2="863.2" />
<line x1="276.0" y1="685.3" x2="276.0" y2="688.5" />
<line x1="276.0" y1="708.1" x2="276.0" y2="719.7" />
<line x1="269.7725" y1="685.3" x2="282.2275" y2="685.3" />
<line x1="269.7725" y1="719.7" x2="282.2275" y2="719.7" />
<rect x="264.25" y="688.5" width="23.5" height="19.600000000000023" fill="#fff" />
<line x1="264.25" y1="690.8" x2="287.75" y2="690.8" />
<line x1="314.4" y1="685.3" x2="314.4" y2="692.4" />
<line x1="314.4" y1="720.0" x2="314.4" y2="724.5" />
<line x1="308.17249999999996" y1="685.3" x2="320.6275" y2="685.3" />
<line x1="308.17249999999996" y1="724.5" x2="320.6275" y2="724.5" />
<rect x="302.65" y="692.4" width="23.5" height="27.600000000000023" fill="#9f9ea3" />
<line x1="302.65" y1="697.2" x2="326.15" y2="697.2" />
<line x1="378.9" y1="686.0" x2="378.9" y2="689.2" />
<line x1="378.9" y1="716.5" x2="378.9" y2="743.1" />
<line x1="372.67249999999996" y1="686.0" x2="385.1275" y2="686.0" />
<line x1="372.67249999999996" y1="743.1" x2="385.1275" y2="743.1" />
<rect x="367.15" y="689.2" width="23.5" height="27.299999999999955" fill="#fff" />
<line x1="367.15" y1="691.7" x2="390.65" y2="691.7" />
<line x1="417.9" y1="686.0" x2="417.9" y2="687.3" />
<line x1="417.9" y1="704.0" x2="417.9" y2="709.1" />
<line x1="411.67249999999996" y1="686.0" x2="424.1275" y2="686.0" />
<line x1="411.67249999999996" y1="709.1" x2="424.1275" y2="709.1" />
<rect x="406.15" y="687.3" width="23.5" height="16.700000000000045" fill="#9f9ea3" />
<line x1="406.15" y1="688.0" x2="429.65" y2="688.0" />
</g>
<path d="M275.5,682.1V675.5H314.5V682.1" stroke="#7a7a7a" stroke-width="1" fill="none"/>
<polygon points="291.40,664.05 292.05,665.97 294.04,665.58 292.70,667.10 294.04,668.62 292.05,668.23 291.40,670.15 290.75,668.23 288.76,668.62 290.10,667.10 288.76,665.58 290.75,665.97" fill="#111" stroke="#111" stroke-width="0.5" stroke-linejoin="round"/>
<polygon points="299.00,664.05 299.65,665.97 301.64,665.58 300.30,667.10 301.64,668.62 299.65,668.23 299.00,670.15 298.35,668.23 296.36,668.62 297.70,667.10 296.36,665.58 298.35,665.97" fill="#111" stroke="#111" stroke-width="0.5" stroke-linejoin="round"/>
<path d="M378.5,682.1V675.5H417.5V682.1" stroke="#7a7a7a" stroke-width="1" fill="none"/>
<polygon points="398.30,664.05 398.95,665.97 400.94,665.58 399.60,667.10 400.94,668.62 398.95,668.23 398.30,670.15 397.65,668.23 395.66,668.62 397.00,667.10 395.66,665.58 397.65,665.97" fill="#111" stroke="#111" stroke-width="0.5" stroke-linejoin="round"/>
<rect x="460.9" y="689.6" width="12.4" height="5.3" fill="#fff" stroke="#222" stroke-width="1.25"/>
<rect x="460.9" y="708.6" width="12.4" height="5.3" fill="#9f9ea3" stroke="#222" stroke-width="1.25"/>
<text x="481.9" y="696.2" font-family='"Liberation Sans", sans-serif' font-size="10.65" fill="#222" stroke="#222" stroke-width="0.25">CD16− CIML NK cells</text>
<text x="481.9" y="714.7" font-family='"Liberation Sans", sans-serif' font-size="10.65" fill="#222" stroke="#222" stroke-width="0.25">CD16+ CIML NK cells</text>
</svg>
</body></html>
